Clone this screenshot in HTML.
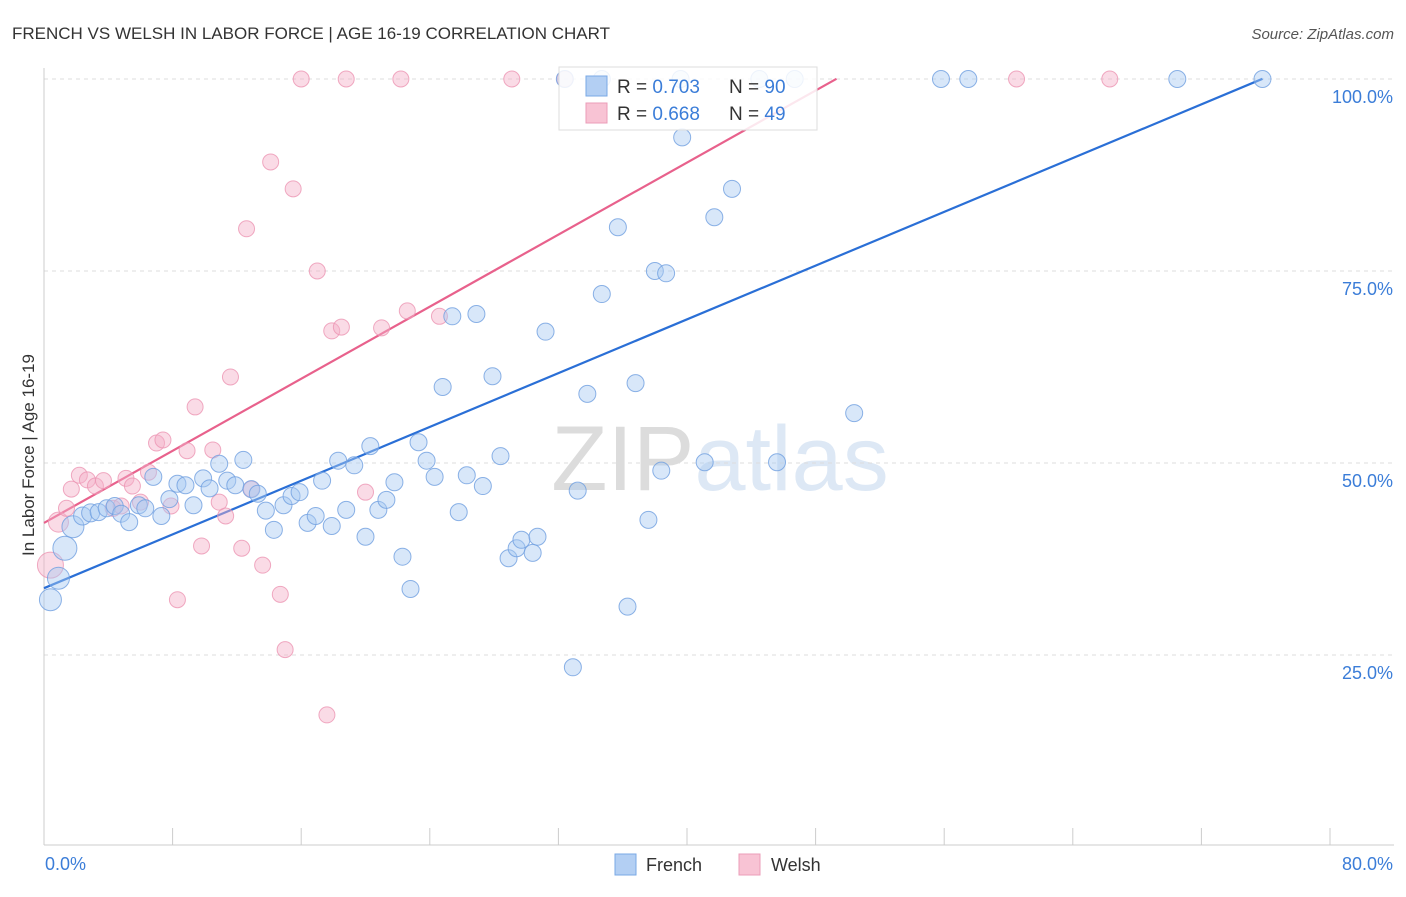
<!DOCTYPE html>
<html><head><meta charset="utf-8">
<style>
body{margin:0;background:#fff;font-family:"Liberation Sans",sans-serif;}
svg text{font-family:"Liberation Sans",sans-serif;}
</style></head>
<body>
<svg id="chart" width="1406" height="892">
<text x="12" y="39" font-size="17" fill="#333">FRENCH VS WELSH IN LABOR FORCE | AGE 16-19 CORRELATION CHART</text>
<text x="1394" y="39" font-size="15" fill="#555" text-anchor="end" font-style="italic">Source: ZipAtlas.com</text>
<text x="720" y="490" font-size="92" fill="#e8e8e8" text-anchor="middle" font-family="Liberation Serif"><tspan fill="#dcdcdc">ZIP</tspan><tspan fill="#dde8f5" font-family="Liberation Sans">atlas</tspan></text>
<g id="grid"></g>
<g id="trend"></g>
<g id="pts"></g>
<text transform="translate(34,455) rotate(-90)" font-size="17" fill="#333" text-anchor="middle">In Labor Force | Age 16-19</text>
<text x="45" y="870" font-size="18" fill="#3b7dd8">0.0%</text>
<text x="1393" y="870" font-size="18" fill="#3b7dd8" text-anchor="end">80.0%</text>
<g>
<rect x="615" y="854" width="21" height="21" fill="#b3cff3" stroke="#7aa8e6"/>
<text x="646" y="871" font-size="18" fill="#333">French</text>
<rect x="739" y="854" width="21" height="21" fill="#f8c3d4" stroke="#eb9db8"/>
<text x="771" y="871" font-size="18" fill="#333">Welsh</text>
</g>
<g>
<rect x="559" y="67" width="258" height="63" fill="#fff" fill-opacity="0.85" stroke="#ddd"/>
<rect x="586" y="76" width="21" height="20" fill="#b3cff3" stroke="#7aa8e6"/>
<text x="617" y="93" font-size="19" fill="#333">R = <tspan fill="#3b7dd8">0.703</tspan></text>
<text x="729" y="93" font-size="19" fill="#333">N = <tspan fill="#3b7dd8">90</tspan></text>
<rect x="586" y="103" width="21" height="20" fill="#f8c3d4" stroke="#eb9db8"/>
<text x="617" y="120" font-size="19" fill="#333">R = <tspan fill="#3b7dd8">0.668</tspan></text>
<text x="729" y="120" font-size="19" fill="#333">N = <tspan fill="#3b7dd8">49</tspan></text>
</g>
</svg>
<script>
const yTicks=[25,50,75,100];
const yTickLabels=["25.0%","50.0%","75.0%","100.0%"];
const xTicks=[0,8,16,24,32,40,48,56,64,72,80];
const frenchX=[0.4,0.9,1.3,1.8,2.4,2.9,3.4,3.9,4.4,4.8,5.3,5.9,6.3,6.8,7.3,7.8,8.3,8.8,9.3,9.9,10.3,10.9,11.4,11.9,12.4,12.9,13.3,13.8,14.3,14.9,15.4,15.9,16.4,16.9,17.3,17.9,18.3,18.8,19.3,20.0,20.3,20.8,21.3,21.8,22.3,22.8,23.3,23.8,24.3,24.8,25.4,25.8,26.3,26.9,27.3,27.9,28.4,28.9,29.4,29.7,30.4,30.7,31.2,32.9,33.2,33.8,34.7,35.7,36.3,36.8,37.6,38.0,38.4,38.7,39.7,41.1,41.7,42.8,45.6,50.4,55.8,57.5,70.5,75.8,32.4,34.7,39.6,44.5,46.7];
const frenchY=[32.2,35.0,38.9,41.7,43.1,43.5,43.6,44.1,44.4,43.4,42.3,44.5,44.1,48.2,43.1,45.3,47.3,47.1,44.5,48.0,46.7,49.9,47.7,47.1,50.4,46.6,46.0,43.8,41.3,44.5,45.7,46.2,42.2,43.1,47.7,41.8,50.3,43.9,49.7,40.4,52.2,43.9,45.2,47.5,37.8,33.6,52.7,50.3,48.2,59.9,69.1,43.6,48.4,69.4,47.0,61.3,50.9,37.6,38.9,40.0,38.3,40.4,67.1,23.4,46.4,59.0,72.0,80.7,31.3,60.4,42.6,75.0,49.0,74.7,92.4,50.1,82.0,85.7,50.1,56.5,100,100,100,100,100,100,100,100,100];
const welshX=[0.4,0.9,1.4,1.7,2.2,2.7,3.2,3.7,4.3,4.8,5.1,5.5,6.0,6.5,7.0,7.4,7.9,8.3,8.9,9.4,9.8,10.5,10.9,11.3,11.6,12.3,12.6,12.9,13.6,14.1,14.7,15.0,15.5,16.0,17.0,17.6,17.9,18.5,18.8,20.0,21.0,22.2,22.6,24.6,29.1,32.4,60.5,66.3];
const welshY=[36.7,42.3,44.1,46.6,48.4,47.8,47.0,47.7,44.1,44.4,48.0,47.0,44.9,48.8,52.6,53.0,44.4,32.2,51.6,57.3,39.2,51.7,44.9,43.1,61.2,38.9,80.5,46.6,36.7,89.2,32.9,25.7,85.7,100,75.0,17.2,67.2,67.7,100,46.2,67.6,100,69.8,69.1,100,100,100,100];
const frenchSize=[11,11,12,11,9,9];
const welshSize=[13,10];
const trendFrench=[33.7,0.875,0,75.8];
const trendWelsh=[42.2,1.173,0,49.3];

const NS="http://www.w3.org/2000/svg";
const X0=44,X1=1330,Y0=847,PY=7.68;
function sx(v){return X0+(v/80)*(X1-X0);}
function sy(v){return Y0-v*PY;}
function mk(tag,attrs,parent){const e=document.createElementNS(NS,tag);for(const k in attrs)e.setAttribute(k,attrs[k]);parent.appendChild(e);return e;}
const grid=document.getElementById('grid');
yTicks.forEach((t,i)=>{
  const l=mk('line',{x1:44,x2:1394,y1:sy(t),y2:sy(t),stroke:'#ddd','stroke-dasharray':'4,4'},grid);
  
  
  const tx=mk('text',{x:1393,y:sy(t)+24,'font-size':18,fill:'#3b7dd8','text-anchor':'end'},grid);
  tx.textContent=yTickLabels[i];
  
  
});
const ax=mk('line',{x1:44,x2:44,y1:68,y2:845,stroke:'#ccc'},grid);


const bx=mk('line',{x1:44,x2:1394,y1:845,y2:845,stroke:'#ccc'},grid);


xTicks.forEach(t=>{
  const l=mk('line',{x1:sx(t),x2:sx(t),y1:828,y2:845,stroke:'#ccc'},grid);
  
  
});
const trend=document.getElementById('trend');
[[trendFrench,'#2a6fd6','french-trend-line'],[trendWelsh,'#e8618c','welsh-trend-line']].forEach(([c,col,n])=>{
  const l=mk('line',{x1:sx(c[2]),y1:sy(c[0]+c[1]*c[2]),x2:sx(c[3]),y2:sy(c[0]+c[1]*c[3]),stroke:col,'stroke-width':2.2},trend);
  
  
});
const pts=document.getElementById('pts');
welshX.forEach((x,i)=>{
  const c=mk('circle',{cx:sx(x),cy:sy(welshY[i]),r:welshSize[i]||8,fill:'#f5b0c7','fill-opacity':0.45,stroke:'#ec95b3','stroke-opacity':0.8,'stroke-width':1},pts);
  
  
});
frenchX.forEach((x,i)=>{
  const c=mk('circle',{cx:sx(x),cy:sy(frenchY[i]),r:frenchSize[i]||8.5,fill:'#a9c9f1','fill-opacity':0.45,stroke:'#6f9fe0','stroke-opacity':0.8,'stroke-width':1},pts);
  
  
});
</script>
</body></html>
